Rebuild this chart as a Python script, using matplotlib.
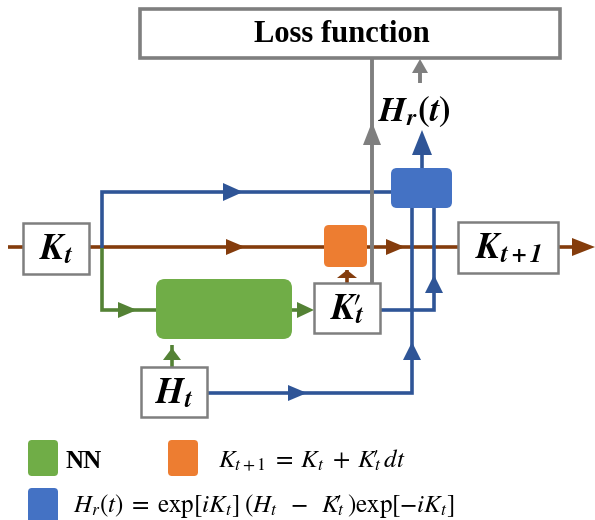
import matplotlib.pyplot as plt
from matplotlib.patches import Rectangle, FancyBboxPatch, Polygon

plt.rcParams['mathtext.fontset'] = 'stix'
plt.rcParams['font.family'] = ['Liberation Serif', 'DejaVu Serif']

# colours
BLUE_LINE = '#2F5597'
BROWN = '#843C0C'
GREEN_LINE = '#548235'
GRAY = '#7F7F7F'
GREEN_BOX = '#70AD47'
ORANGE_BOX = '#ED7D31'
BLUE_BOX = '#4472C4'

# text of the diagram
node_labels = [r'$\mathbfit{K}_{\mathbfit{t}}$',
               r'$\mathbfit{K}_{\mathbfit{t+1}}$',
               r"$\mathbfit{K}_{\mathbfit{t}}\!\!\!\prime$",
               r'$\mathbfit{H}_{\mathbfit{t}}$']
loss_label = 'Loss function'
output_label = r'$\mathbfit{H}_{\mathbfit{r}}\mathbf{(}\mathbfit{t}\mathbf{)}$'
legend_labels = ['NN',
                 r"$K_{t+1}\;=\;K_t\;+\;K_t\!\!\!\prime\;dt$",
                 r"$H_r(t)\;=\;\mathrm{exp}[iK_t]\;(H_t\;\;-\;\;K_t\!\!\!\prime\;)\mathrm{exp}[-iK_t]$"]
legend_colors = [GREEN_BOX, ORANGE_BOX, BLUE_BOX]


def head(ax, x, y, direction, color, length=18, half=8):
    if direction == 'right':
        pts = [(x, y), (x - length, y - half), (x - length, y + half)]
    else:
        pts = [(x, y), (x - half, y + length), (x + half, y + length)]
    ax.add_patch(Polygon(pts, closed=True, color=color, lw=0, zorder=4))


def line(ax, xs, ys, color, lw=2.6, z=2):
    ax.plot(xs, ys, color=color, lw=lw, solid_joinstyle='miter',
            solid_capstyle='butt', zorder=z)


def white_box(ax, x, y, w, h, lw=1.8):
    ax.add_patch(Rectangle((x, y), w, h, facecolor='white',
                           edgecolor=GRAY, lw=lw, zorder=5))


def round_box(ax, x, y, w, h, color, r=7):
    ax.add_patch(FancyBboxPatch((x, y), w, h,
                                boxstyle=f'round,pad=0,rounding_size={r}',
                                facecolor=color, edgecolor='none', zorder=5))


def main():
    fig = plt.figure(figsize=(5.95, 5.2), dpi=100)
    ax = fig.add_axes([0, 0, 1, 1])
    ax.set_xlim(0, 595)
    ax.set_ylim(520, 0)
    ax.axis('off')

    # brown K path
    line(ax, [8, 580], [247, 247], BROWN)
    head(ax, 245, 247, 'right', BROWN, 19, 8)
    head(ax, 405, 247, 'right', BROWN, 19, 8)
    head(ax, 595, 247, 'right', BROWN, 23, 9)
    line(ax, [347, 347], [283, 270], BROWN)
    head(ax, 347, 270, 'up', BROWN, 8, 10)

    # blue top path
    line(ax, [102, 102, 395], [248, 192, 192], BLUE_LINE)
    head(ax, 243, 192, 'right', BLUE_LINE, 20, 9)

    # green NN path
    line(ax, [102, 102, 160], [248, 310, 310], GREEN_LINE)
    head(ax, 137, 310, 'right', GREEN_LINE, 19, 8)
    line(ax, [288, 300], [310, 310], GREEN_LINE)
    head(ax, 314, 310, 'right', GREEN_LINE, 17, 8)
    line(ax, [172, 172], [367, 345], GREEN_LINE)
    head(ax, 172, 348, 'up', GREEN_LINE, 12, 9)

    # gray loss paths
    line(ax, [372, 372], [283, 58], GRAY, lw=2.8, z=3)
    head(ax, 372, 122, 'up', GRAY, 23, 9)
    line(ax, [420, 420], [83, 68], GRAY, lw=2.8)
    head(ax, 420, 59, 'up', GRAY, 14, 8)

    # blue H paths
    line(ax, [380, 434, 434], [310, 310, 205], BLUE_LINE, z=3)
    head(ax, 434, 275, 'up', BLUE_LINE, 18, 9)
    line(ax, [207, 412, 412], [393, 393, 205], BLUE_LINE, z=3)
    head(ax, 307, 393, 'right', BLUE_LINE, 19, 8)
    head(ax, 412, 342, 'up', BLUE_LINE, 18, 9)
    line(ax, [422, 422], [170, 150], BLUE_LINE)
    head(ax, 422, 130, 'up', BLUE_LINE, 25, 10)

    # boxes
    white_box(ax, 140, 9, 420, 49, lw=2.6)
    ax.text(342, 34, loss_label, fontsize=22, fontweight='bold',
            ha='center', va='center', zorder=6)

    node_boxes = [(23, 223, 66, 51), (458, 222, 100, 51),
                  (314, 283, 66, 50), (141, 367, 66, 50)]
    for (x, y, w, h), lab in zip(node_boxes, node_labels):
        white_box(ax, x, y, w, h)
        ax.text(x + w / 2, y + h / 2 + 2, lab, fontsize=26,
                ha='center', va='center', zorder=6)

    round_box(ax, 156, 279, 136, 60, GREEN_BOX, 9)
    round_box(ax, 324, 225, 43, 42, ORANGE_BOX, 5)
    round_box(ax, 391, 168, 61, 40, BLUE_BOX, 6)

    ax.text(378, 112, output_label, fontsize=25, ha='left', va='center',
            zorder=6)

    # legend
    legend_boxes = [(28, 440, 30, 36), (168, 440, 30, 36), (28, 488, 30, 40)]
    for (x, y, w, h), c in zip(legend_boxes, legend_colors):
        round_box(ax, x, y, w, h, c, 4)
    ax.text(65, 462, legend_labels[0], fontsize=18, fontweight='bold',
            ha='left', va='center')
    ax.text(218, 460, legend_labels[1], fontsize=18, ha='left', va='center')
    ax.text(73, 506, legend_labels[2], fontsize=18, ha='left', va='center')

    fig.savefig('out.png', dpi=100)


if __name__ == "__main__":
    main()
